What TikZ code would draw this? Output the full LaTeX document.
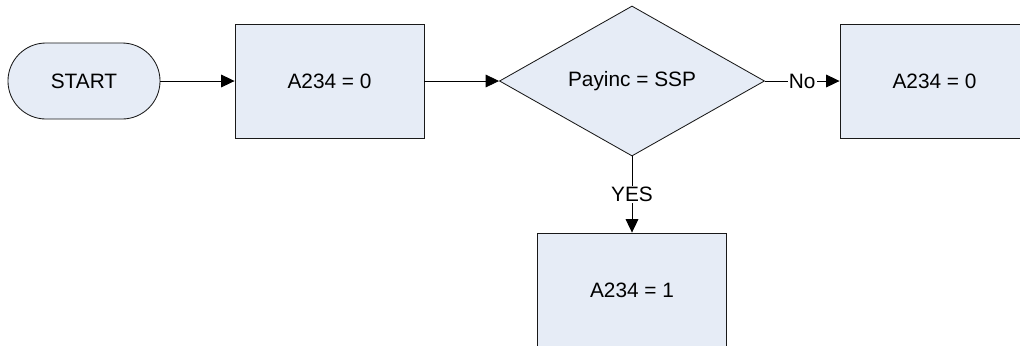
\documentclass[tikz,border=0pt]{standalone}
\usepackage{fontspec}
\setmainfont{Liberation Sans}
\usetikzlibrary{shapes.geometric}
\usetikzlibrary{arrows.meta}
\definecolor{boxfill}{HTML}{E6ECF6}

\begin{document}
\begin{tikzpicture}[x=0.025cm,y=-0.025cm,
        font=\fontsize{14.8pt}{17.5pt}\selectfont,
        term/.style={draw=black!90,fill=boxfill,line width=0.6pt,rectangle,rounded corners=0.95cm,minimum width=3.8cm,minimum height=1.9cm,inner sep=0pt},
        proc/.style={draw=black!90,fill=boxfill,line width=0.6pt,rectangle,minimum width=4.725cm,minimum height=2.85cm,inner sep=0pt},
        dec/.style={draw=black!90,fill=boxfill,line width=0.6pt,diamond,aspect=1.77,minimum width=6.625cm,minimum height=3.75cm,inner sep=0pt},
        flow/.style={-{Triangle[length=9.5pt,width=9pt]},line width=0.6pt},
        lbl/.style={fill=white,inner sep=1pt}
      ]
      \useasboundingbox (0,0) rectangle (1020,345);
      \node[term] (start) at (84,81) {START};
      \node[proc] (init) at (329.5,81) {A234 = 0};
      \node[dec] (test) at (632,81) {Payinc = SSP};
      \node[proc] (no) at (934.5,81) {A234 = 0};
      \node[proc] (yes) at (632,290) {A234 = 1};
      % Connections.
      \draw[flow] (start) -- (init);
      \draw[flow] (init) -- (test);
      \draw[flow] (test) -- node[lbl] {No} (no);
      \draw[flow] (test) -- node[lbl] {YES} (yes);
    \end{tikzpicture}
\end{document}
